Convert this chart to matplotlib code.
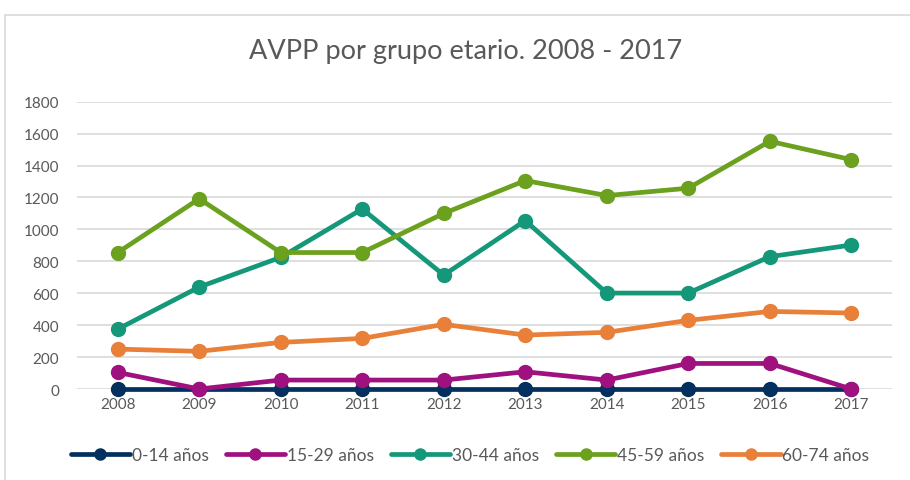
import matplotlib.pyplot as plt
from matplotlib.patches import Rectangle

years = ['2008', '2009', '2010', '2011', '2012', '2013', '2014', '2015', '2016', '2017']
g0_14 = [0, 0, 0, 0, 0, 0, 0, 0, 0, 0]
g15_29 = [104, 0, 56, 56, 56, 108, 56, 160, 160, 0]
g30_44 = [375, 639, 825, 1128, 714, 1055, 601, 601, 829, 902]
g45_59 = [855, 1192, 855, 855, 1100, 1306, 1212, 1258, 1552, 1437]
g60_74 = [250, 236, 292, 317, 405, 338, 355, 430, 486, 476]

series = [
    ('0-14 años', g0_14, '#03305E'),
    ('15-29 años', g15_29, '#A01180'),
    ('30-44 años', g30_44, '#15977A'),
    ('45-59 años', g45_59, '#6CA11F'),
    ('60-74 años', g60_74, '#E8803A'),
]

grey = '#595959'
plt.rcParams['font.family'] = ['Lato', 'DejaVu Sans']

fig = plt.figure(figsize=(9.1, 4.81), dpi=100)
W, H = 910, 481
ax = fig.add_axes([77 / W, 1 - 390 / H, (892 - 77) / W, (390 - 102.7) / H])

# chart border
fig.patches.append(Rectangle((5 / W, -0.1), 1.2, 1 - 16 / H + 0.1, transform=fig.transFigure,
                             fill=False, edgecolor='#d9d9d9', linewidth=1.2))

x = list(range(len(years)))
for name, vals, col in series:
    ax.plot(x, vals, color=col, linewidth=3.4, marker='o', markersize=10,
            label=name, solid_capstyle='round', zorder=3, clip_on=False)

ax.set_ylim(0, 1800)
ax.set_yticks(range(0, 1801, 200))
ax.set_xlim(-0.5, len(years) - 0.5)
ax.set_xticks(x)
ax.set_xticklabels(years)
ax.grid(axis='y', color='#d9d9d9', linewidth=1.2)
ax.set_axisbelow(True)
for s in ax.spines.values():
    s.set_visible(False)
ax.tick_params(length=0, colors=grey, labelsize=11)
ax.tick_params(axis='y', pad=13)
ax.tick_params(axis='x', pad=6)

fig.text(466 / W, 1 - 52 / H, 'AVPP por grupo etario. 2008 - 2017', ha='center', va='center',
         fontsize=19.5, color=grey)

fig.legend(loc='center', bbox_to_anchor=(470 / W, 1 - 456 / H), ncol=5, frameon=False,
           fontsize=12.5, labelcolor=grey, handlelength=3.4, columnspacing=1.0, handletextpad=0.1,
           markerscale=0.8)

fig.savefig('out.png', dpi=100)
